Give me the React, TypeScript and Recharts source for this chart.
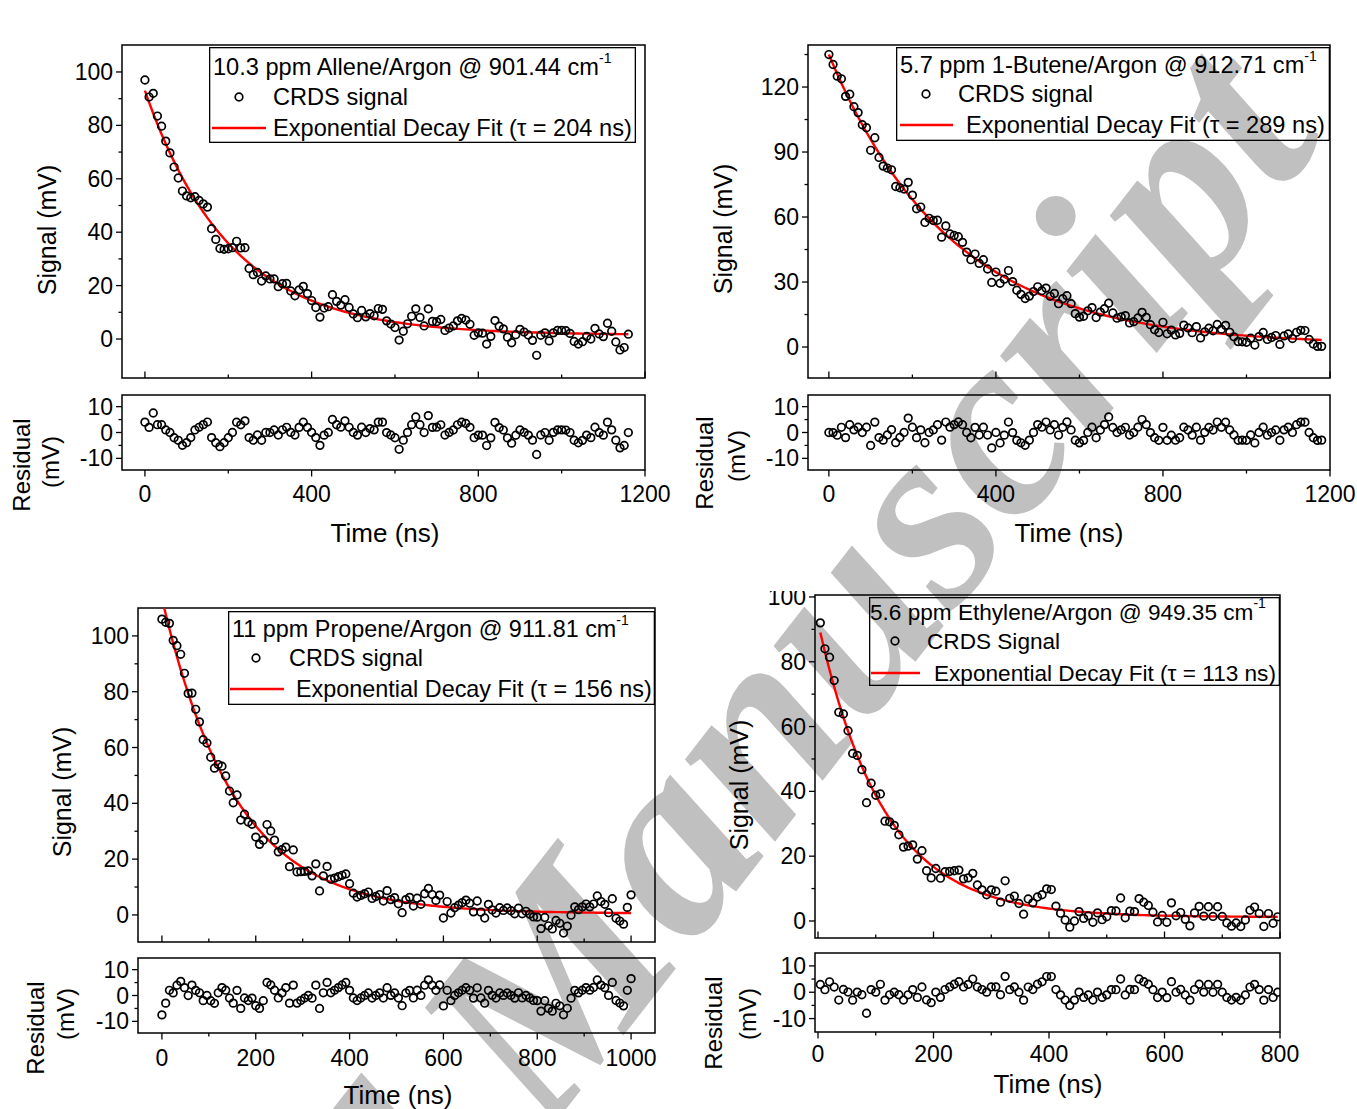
import React from 'react';
import { ComposedChart, Scatter, Line, XAxis, YAxis, ReferenceArea, Legend } from 'recharts';

const FONT = '"Liberation Sans", Arial, sans-serif';
const TICK_FONT = 23;

// 10.3 ppm allene in argon, 901.44 cm-1 (t = 0, 10, 20 ... ns)
const alleneStep = 10;
const alleneSignal = [
  97.0, 90.6, 92.0, 83.5, 79.7, 74.1, 69.7, 64.4, 60.3, 55.4,
  53.6, 52.9, 53.3, 51.9, 50.6, 49.4, 41.3, 37.3, 33.9, 33.6,
  33.8, 34.2, 36.6, 34.1, 34.2, 26.4, 24.1, 24.9, 21.7, 23.6,
  22.5, 22.5, 19.6, 20.7, 20.8, 18.0, 16.2, 18.4, 19.7, 17.0,
  14.4, 11.8, 8.2, 11.6, 12.1, 16.6, 14.1, 12.7, 14.7, 11.8,
  9.4, 8.0, 10.7, 8.3, 9.5, 8.7, 11.4, 11.1, 6.8, 5.6,
  4.3, -0.4, 2.9, 5.7, 8.5, 11.3, 8.1, 4.9, 11.3, 6.6,
  6.5, 7.3, 3.2, 4.1, 4.9, 6.8, 7.7, 7.1, 5.5, 1.4,
  2.3, 2.2, -1.9, 1.0, 6.9, 4.8, 3.8, 0.7, -1.4, 1.6,
  3.6, 2.6, 1.5, -0.5, -6.1, 1.4, 2.3, -0.7, 2.3, 3.2,
  3.2, 3.1, 2.1, -0.9, -1.9, -1.0, 1.0, 0.0, 4.0, 1.9,
  0.9, 5.9, 2.9, -1.1, -4.1, -3.2, 1.8,
];
const alleneFit = { amp: 91.5, tau: 204, base: 1.5 };

// 5.7 ppm 1-butene in argon, 912.71 cm-1 (t = 0, 10, 20 ... ns)
const buteneStep = 10;
const buteneSignal = [
  135.0, 130.4, 125.0, 123.8, 115.7, 116.7, 110.9, 108.2, 102.6, 101.2,
  90.8, 96.6, 87.5, 83.5, 82.6, 81.8, 74.1, 73.5, 72.9, 76.0,
  70.1, 63.8, 64.6, 57.5, 59.4, 58.4, 58.5, 50.7, 55.9, 52.2,
  51.5, 50.9, 48.3, 43.8, 40.3, 42.9, 38.6, 40.3, 36.0, 29.8,
  34.6, 29.4, 31.3, 35.3, 30.2, 26.2, 24.3, 22.4, 23.5, 25.6,
  27.8, 26.0, 27.2, 23.4, 24.7, 20.0, 22.3, 23.7, 20.0, 15.4,
  13.8, 14.2, 16.7, 18.2, 13.6, 16.1, 17.7, 20.2, 15.7, 13.3,
  13.9, 14.5, 11.1, 11.7, 13.4, 16.0, 13.7, 10.3, 8.0, 6.7,
  11.4, 6.1, 7.8, 5.6, 6.3, 10.1, 8.8, 6.6, 9.4, 4.2,
  7.0, 8.7, 7.5, 10.4, 8.2, 10.0, 6.8, 4.7, 2.5, 2.4,
  2.2, 4.1, 0.9, 4.8, 6.7, 3.5, 4.4, 5.3, 1.2, 5.1,
  6.0, 3.9, 6.8, 7.7, 7.6, 3.5, 1.4, 0.3, 0.3,
];
const buteneFit = { amp: 134, tau: 289, base: 1.0 };

// 11 ppm propene in argon, 911.81 cm-1 (t = 0, 8, 16 ... ns)
const propeneStep = 8;
const propeneSignal = [
  106.0, 104.9, 104.5, 98.4, 96.5, 93.4, 86.6, 79.4, 79.5, 73.7,
  69.2, 62.8, 61.6, 56.5, 52.6, 53.9, 53.3, 49.8, 44.4, 40.2,
  43.0, 34.0, 36.1, 33.3, 32.5, 27.9, 25.3, 26.8, 32.4, 30.1,
  26.8, 22.6, 23.4, 24.3, 17.3, 23.3, 15.4, 15.5, 15.6, 15.8,
  14.0, 18.3, 8.6, 14.0, 17.4, 12.8, 13.2, 13.7, 14.2, 14.7,
  11.2, 7.8, 6.4, 7.0, 7.6, 8.2, 5.9, 6.6, 7.3, 5.0,
  8.7, 5.5, 6.2, 4.0, 0.8, 5.5, 6.3, 3.2, 6.0, 3.8,
  7.6, 9.5, 7.3, 5.2, 7.1, -1.1, 4.8, 0.7, 2.6, 3.5,
  4.4, 5.3, 4.2, 1.1, 5.0, 1.0, -1.1, 3.8, 1.8, 0.7,
  2.6, 1.6, 2.5, 1.5, 0.4, 2.4, 0.4, 1.3, 0.3, -0.7,
  -0.8, -4.9, -0.9, -3.9, -5.0, -2.0, -3.0, -6.5, -4.0, -0.1,
  2.9, 1.9, 2.9, 3.9, 2.9, 3.9, 6.8, 4.8, 3.8, 0.8,
  5.8, -1.2, -2.2, -3.3, 2.7, 7.2,
];
const propeneFit = { amp: 113, tau: 156, base: 0.5 };

// 5.6 ppm ethylene in argon, 949.35 cm-1 (t = 4, 12, 20 ... ns)
const ethyleneStep = 8;
const ethyleneSignal = [
  92.0, 84.0, 81.4, 74.2, 64.4, 63.9, 58.7, 51.7, 51.1, 46.7,
  36.5, 42.5, 38.8, 39.2, 30.8, 30.6, 29.5, 26.6, 22.8, 23.1,
  23.5, 19.1, 21.7, 15.5, 13.3, 16.2, 13.2, 15.2, 15.3, 15.5,
  15.7, 13.0, 13.3, 14.7, 11.1, 9.6, 8.1, 9.6, 9.2, 5.8,
  12.4, 7.0, 7.7, 5.4, 2.1, 6.8, 5.6, 7.4, 8.1, 9.9,
  9.7, 4.6, 2.4, 0.3, -1.9, 0.0, 2.9, 0.8, 1.6, -0.4,
  2.5, 0.4, 1.3, 3.2, 3.1, 7.1, 1.0, 3.0, 2.9, 6.9,
  5.8, 4.8, 2.7, -0.3, 1.7, -0.4, 5.6, 1.6, 2.6, 0.5,
  -1.5, 2.5, 4.5, 1.5, 4.4, 1.4, 4.4, 1.4, -0.6, -1.6,
  -0.6, -1.7, 0.3, 3.3, 4.3, 2.3, -1.7, 2.3, -0.7, 1.3,
];
const ethyleneFit = { amp: 91, tau: 113, base: 1.2 };

const ticks1200 = [0, 200, 400, 600, 800, 1000, 1200];
const labels1200 = [0, 400, 800, 1200];
const ticks1000 = [0, 100, 200, 300, 400, 500, 600, 700, 800, 900, 1000];
const labels1000 = [0, 200, 400, 600, 800, 1000];
const ticks800 = [0, 100, 200, 300, 400, 500, 600, 700, 800];
const labels800 = [0, 200, 400, 600, 800];
const signalTicks100 = [0, 10, 20, 30, 40, 50, 60, 70, 80, 90, 100];
const signalLabels100 = [0, 20, 40, 60, 80, 100];
const signalTicks135 = [0, 15, 30, 45, 60, 75, 90, 105, 120, 135];
const signalLabels135 = [0, 30, 60, 90, 120];
const residualTicks = [-10, -5, 0, 5, 10];
const residualLabels = [-10, 0, 10];

type Box = { x: number; y: number; w: number; h: number };
type Pt = { x: number; y: number };

interface PanelCfg {
  gas: string;
  signalName: string;
  tStart: number;
  step: number;
  signal: number[];
  fit: { amp: number; tau: number; base: number };
  main: Box;
  resid: Box;
  xDomain: [number, number];
  yDomain: [number, number];
  rDomain: [number, number];
  xTicks: number[];
  xLabels: number[];
  yTicks: number[];
  yLabels: number[];
  xLabelGap: number;
  legend: Box & { font: number; title: Pt; dot: Pt; dotText: number; line: [number, number, number]; lineText: number };
  signalTitle: Pt;
  residTitle: Pt;
  mvTitle: Pt;
  timeTitle: Pt;
}

const panels: PanelCfg[] = [
  {
    gas: '10.3 ppm Allene/Argon @ 901.44 cm',
    signalName: 'CRDS signal',
    tStart: 0,
    step: alleneStep,
    signal: alleneSignal,
    fit: alleneFit,
    main: { x: 122, y: 45, w: 523, h: 333 },
    resid: { x: 122, y: 395, w: 523, h: 75 },
    xDomain: [-55, 1200],
    yDomain: [-14.6, 110.1],
    rDomain: [-14.5, 14.5],
    xTicks: ticks1200,
    xLabels: labels1200,
    yTicks: signalTicks100,
    yLabels: signalLabels100,
    xLabelGap: 24,
    legend: { x: 209, y: 47, w: 427, h: 96, font: 23.6, title: { x: 4, y: 20 }, dot: { x: 30, y: 50 }, dotText: 64, line: [3, 57, 81], lineText: 64 },
    signalTitle: { x: 47, y: 230 },
    residTitle: { x: 22, y: 465 },
    mvTitle: { x: 51, y: 462 },
    timeTitle: { x: 385, y: 533 },
  },
  {
    gas: '5.7 ppm 1-Butene/Argon @ 912.71 cm',
    signalName: 'CRDS signal',
    tStart: 0,
    step: buteneStep,
    signal: buteneSignal,
    fit: buteneFit,
    main: { x: 808, y: 45, w: 522, h: 333 },
    resid: { x: 808, y: 395, w: 522, h: 75 },
    xDomain: [-50, 1200],
    yDomain: [-14.3, 139.4],
    rDomain: [-14.5, 14.5],
    xTicks: ticks1200,
    xLabels: labels1200,
    yTicks: signalTicks135,
    yLabels: signalLabels135,
    xLabelGap: 24,
    legend: { x: 896, y: 47, w: 434, h: 94, font: 23.6, title: { x: 4, y: 18 }, dot: { x: 30, y: 47 }, dotText: 62, line: [4, 57, 78], lineText: 70 },
    signalTitle: { x: 723, y: 229 },
    residTitle: { x: 705, y: 463 },
    mvTitle: { x: 737, y: 456 },
    timeTitle: { x: 1069, y: 533 },
  },
  {
    gas: '11 ppm Propene/Argon @ 911.81 cm',
    signalName: 'CRDS signal',
    tStart: 0,
    step: propeneStep,
    signal: propeneSignal,
    fit: propeneFit,
    main: { x: 138, y: 608, w: 517, h: 334 },
    resid: { x: 138, y: 958, w: 517, h: 75 },
    xDomain: [-51, 1051],
    yDomain: [-9.7, 110],
    rDomain: [-14.5, 14.5],
    xTicks: ticks1000,
    xLabels: labels1000,
    yTicks: signalTicks100,
    yLabels: signalLabels100,
    xLabelGap: 25,
    legend: { x: 228, y: 611, w: 427, h: 94, font: 23.4, title: { x: 4, y: 18 }, dot: { x: 28, y: 47 }, dotText: 61, line: [2, 56, 78], lineText: 68 },
    signalTitle: { x: 62, y: 792 },
    residTitle: { x: 36, y: 1028 },
    mvTitle: { x: 66, y: 1014 },
    timeTitle: { x: 398, y: 1095 },
  },
  {
    gas: '5.6 ppm Ethylene/Argon @ 949.35 cm',
    signalName: 'CRDS Signal',
    tStart: 4,
    step: ethyleneStep,
    signal: ethyleneSignal,
    fit: ethyleneFit,
    main: { x: 815, y: 595, w: 465, h: 343 },
    resid: { x: 815, y: 953, w: 465, h: 79 },
    xDomain: [-5.2, 800],
    yDomain: [-5.25, 100.6],
    rDomain: [-15.1, 14.9],
    xTicks: ticks800,
    xLabels: labels800,
    yTicks: signalTicks100,
    yLabels: signalLabels100,
    xLabelGap: 22,
    legend: { x: 869, y: 597, w: 411, h: 89, font: 22.6, title: { x: 1, y: 15 }, dot: { x: 26, y: 44 }, dotText: 58, line: [2, 51, 76], lineText: 65 },
    signalTitle: { x: 739, y: 785 },
    residTitle: { x: 714, y: 1023 },
    mvTitle: { x: 748, y: 1014 },
    timeTitle: { x: 1048, y: 1084 },
  },
];

const YW = 70; // y-axis band width
const MT = 10;
const MR = 10;
const MR_RESID = 50; // room for the last time label

const Ring = (p: any) => (
  <circle cx={p.cx} cy={p.cy} r={3.8} fill="none" stroke="#000" strokeWidth={1.7} />
);

const yTick = (labels: number[]) => (p: any) => {
  const v = p.payload.value;
  const major = labels.includes(v);
  return (
    <g>
      <line x1={p.x} x2={p.x - (major ? 6 : 3.5)} y1={p.y} y2={p.y} stroke="#000" strokeWidth={1.3} />
      {major && (
        <text x={p.x - 9} y={p.y} textAnchor="end" dominantBaseline="central" fontSize={TICK_FONT} fontFamily={FONT} fill="#000">
          {String(v)}
        </text>
      )}
    </g>
  );
};

const xTick = (labels: number[], inside: boolean, gap: number) => (p: any) => {
  const v = p.payload.value;
  const major = labels.includes(v);
  const len = major ? 6.5 : 3.5;
  return (
    <g>
      <line x1={p.x} x2={p.x} y1={p.y} y2={inside ? p.y - len : p.y + len} stroke="#000" strokeWidth={1.3} />
      {!inside && major && (
        <text x={p.x} y={p.y + gap} textAnchor="middle" dominantBaseline="central" fontSize={TICK_FONT} fontFamily={FONT} fill="#000">
          {String(v)}
        </text>
      )}
    </g>
  );
};

function LegendBox({ cfg }: { cfg: PanelCfg }) {
  const lg = cfg.legend;
  const txt = { fontSize: lg.font, fontFamily: FONT, fill: '#000', dominantBaseline: 'central' as const };
  return (
    <svg width={lg.w} height={lg.h} style={{ display: 'block', overflow: 'visible' }}>
      <rect x={0.65} y={0.65} width={lg.w - 1.3} height={lg.h - 1.3} fill="none" stroke="#000" strokeWidth={1.3} />
      <text x={lg.title.x} y={lg.title.y} {...txt}>
        {cfg.gas}
        <tspan dy={-9} fontSize={14}>-1</tspan>
      </text>
      <circle cx={lg.dot.x} cy={lg.dot.y} r={3.8} fill="none" stroke="#000" strokeWidth={1.7} />
      <text x={lg.dotText} y={lg.dot.y} {...txt}>{cfg.signalName}</text>
      <line x1={lg.line[0]} x2={lg.line[1]} y1={lg.line[2]} y2={lg.line[2]} stroke="#ff0000" strokeWidth={2.4} />
      <text x={lg.lineText} y={lg.line[2]} {...txt}>{`Exponential Decay Fit (τ = ${cfg.fit.tau} ns)`}</text>
    </svg>
  );
}

const titleStyle = (p: Pt, rotate: boolean, size: number): React.CSSProperties => ({
  position: 'absolute',
  left: p.x,
  top: p.y,
  transform: `translate(-50%, -50%)${rotate ? ' rotate(-90deg)' : ''}`,
  whiteSpace: 'nowrap',
  fontFamily: FONT,
  fontSize: size,
  color: '#000',
  lineHeight: 1,
});

function Panel({ cfg }: { cfg: PanelCfg }) {
  const fitAt = (t: number) => cfg.fit.amp * Math.exp(-t / cfg.fit.tau) + cfg.fit.base;
  const rows = cfg.signal.map((s, i) => {
    const t = cfg.tStart + i * cfg.step;
    const f = fitAt(t);
    return { t, signal: s, fit: f, res: s - f };
  });
  const { main, resid, legend } = cfg;
  const mainLeft = main.x - YW;
  const mainTop = main.y - MT;
  const residLeft = resid.x - YW;
  const residTop = resid.y - MT;
  const frame = { fill: 'none', fillOpacity: 0, stroke: '#000', strokeWidth: 1.5, ifOverflow: 'visible' as const };

  return (
    <>
      <div style={{ position: 'absolute', left: mainLeft, top: mainTop }}>
        <ComposedChart width={main.w + YW + MR} height={main.h + MT + 10} data={rows} margin={{ top: MT, right: MR, left: 0, bottom: 0 }}>
          <XAxis dataKey="t" type="number" domain={cfg.xDomain} allowDataOverflow ticks={cfg.xTicks} interval={0}
            height={10} tickSize={0} tickMargin={0} tickLine={false} axisLine={false} tick={xTick(cfg.xLabels, true, 0)} />
          <YAxis type="number" domain={cfg.yDomain} allowDataOverflow ticks={cfg.yTicks} interval={0}
            width={YW} tickSize={0} tickMargin={0} tickLine={false} axisLine={false} tick={yTick(cfg.yLabels)} />
          <Scatter dataKey="signal" shape={Ring} isAnimationActive={false} />
          <Line dataKey="fit" type="linear" stroke="#ff0000" strokeWidth={2.4} dot={false} activeDot={false} isAnimationActive={false} />
          <ReferenceArea x1={cfg.xDomain[0]} x2={cfg.xDomain[1]} y1={cfg.yDomain[0]} y2={cfg.yDomain[1]} {...frame} />
          <Legend layout="horizontal" verticalAlign="middle" align="center"
            wrapperStyle={{ left: legend.x - mainLeft, top: legend.y - mainTop, width: legend.w, height: legend.h }}
            content={() => <LegendBox cfg={cfg} />} />
        </ComposedChart>
      </div>
      <div style={{ position: 'absolute', left: residLeft, top: residTop }}>
        <ComposedChart width={resid.w + YW + MR_RESID} height={resid.h + MT + 50} data={rows} margin={{ top: MT, right: MR_RESID, left: 0, bottom: 0 }}>
          <XAxis dataKey="t" type="number" domain={cfg.xDomain} allowDataOverflow ticks={cfg.xTicks} interval={0}
            height={50} tickSize={0} tickMargin={0} tickLine={false} axisLine={false} tick={xTick(cfg.xLabels, false, cfg.xLabelGap)} />
          <YAxis type="number" domain={cfg.rDomain} allowDataOverflow ticks={residualTicks} interval={0}
            width={YW} tickSize={0} tickMargin={0} tickLine={false} axisLine={false} tick={yTick(residualLabels)} />
          <Scatter dataKey="res" shape={Ring} isAnimationActive={false} />
          <ReferenceArea x1={cfg.xDomain[0]} x2={cfg.xDomain[1]} y1={cfg.rDomain[0]} y2={cfg.rDomain[1]} {...frame} />
        </ComposedChart>
      </div>
      <div style={titleStyle(cfg.signalTitle, true, 25)}>Signal (mV)</div>
      <div style={titleStyle(cfg.residTitle, true, 24)}>Residual</div>
      <div style={titleStyle(cfg.mvTitle, true, 24)}>(mV)</div>
      <div style={titleStyle(cfg.timeTitle, false, 26)}>Time (ns)</div>
    </>
  );
}

// diagonal stamp laid under the plots
const stampOrigin = { x: 545, y: 1136 };
const stampAngle = -52;
const stampSize = 265;

function Stamp() {
  const { x, y } = stampOrigin;
  const common = {
    fontFamily: '"Liberation Serif", "Times New Roman", serif',
    fontStyle: 'italic' as const,
    fontWeight: 700,
    fontSize: stampSize,
    fill: '#c0c0c0',
    transform: `rotate(${stampAngle} ${x} ${y})`,
  };
  return (
    <svg width={1357} height={1109} style={{ position: 'absolute', left: 0, top: 0 }}>
      <text x={x} y={y} textAnchor="end" {...common}>{'Accepted\u00a0'}</text>
      <text x={x} y={y} textAnchor="start" {...common}>Manuscript</text>
    </svg>
  );
}

export default function App() {
  return (
    <div style={{ position: 'absolute', left: 0, top: 0, width: 1357, height: 1109, background: '#fff', overflow: 'hidden' }}>
      <Stamp />
      {panels.map((p) => (
        <Panel key={p.gas} cfg={p} />
      ))}
      {/* top of the ethylene panel's "100" label sits under the page cut */}
      <div style={{ position: 'absolute', left: 755, top: 570, width: 57, height: 21, background: '#fff' }} />
    </div>
  );
}
